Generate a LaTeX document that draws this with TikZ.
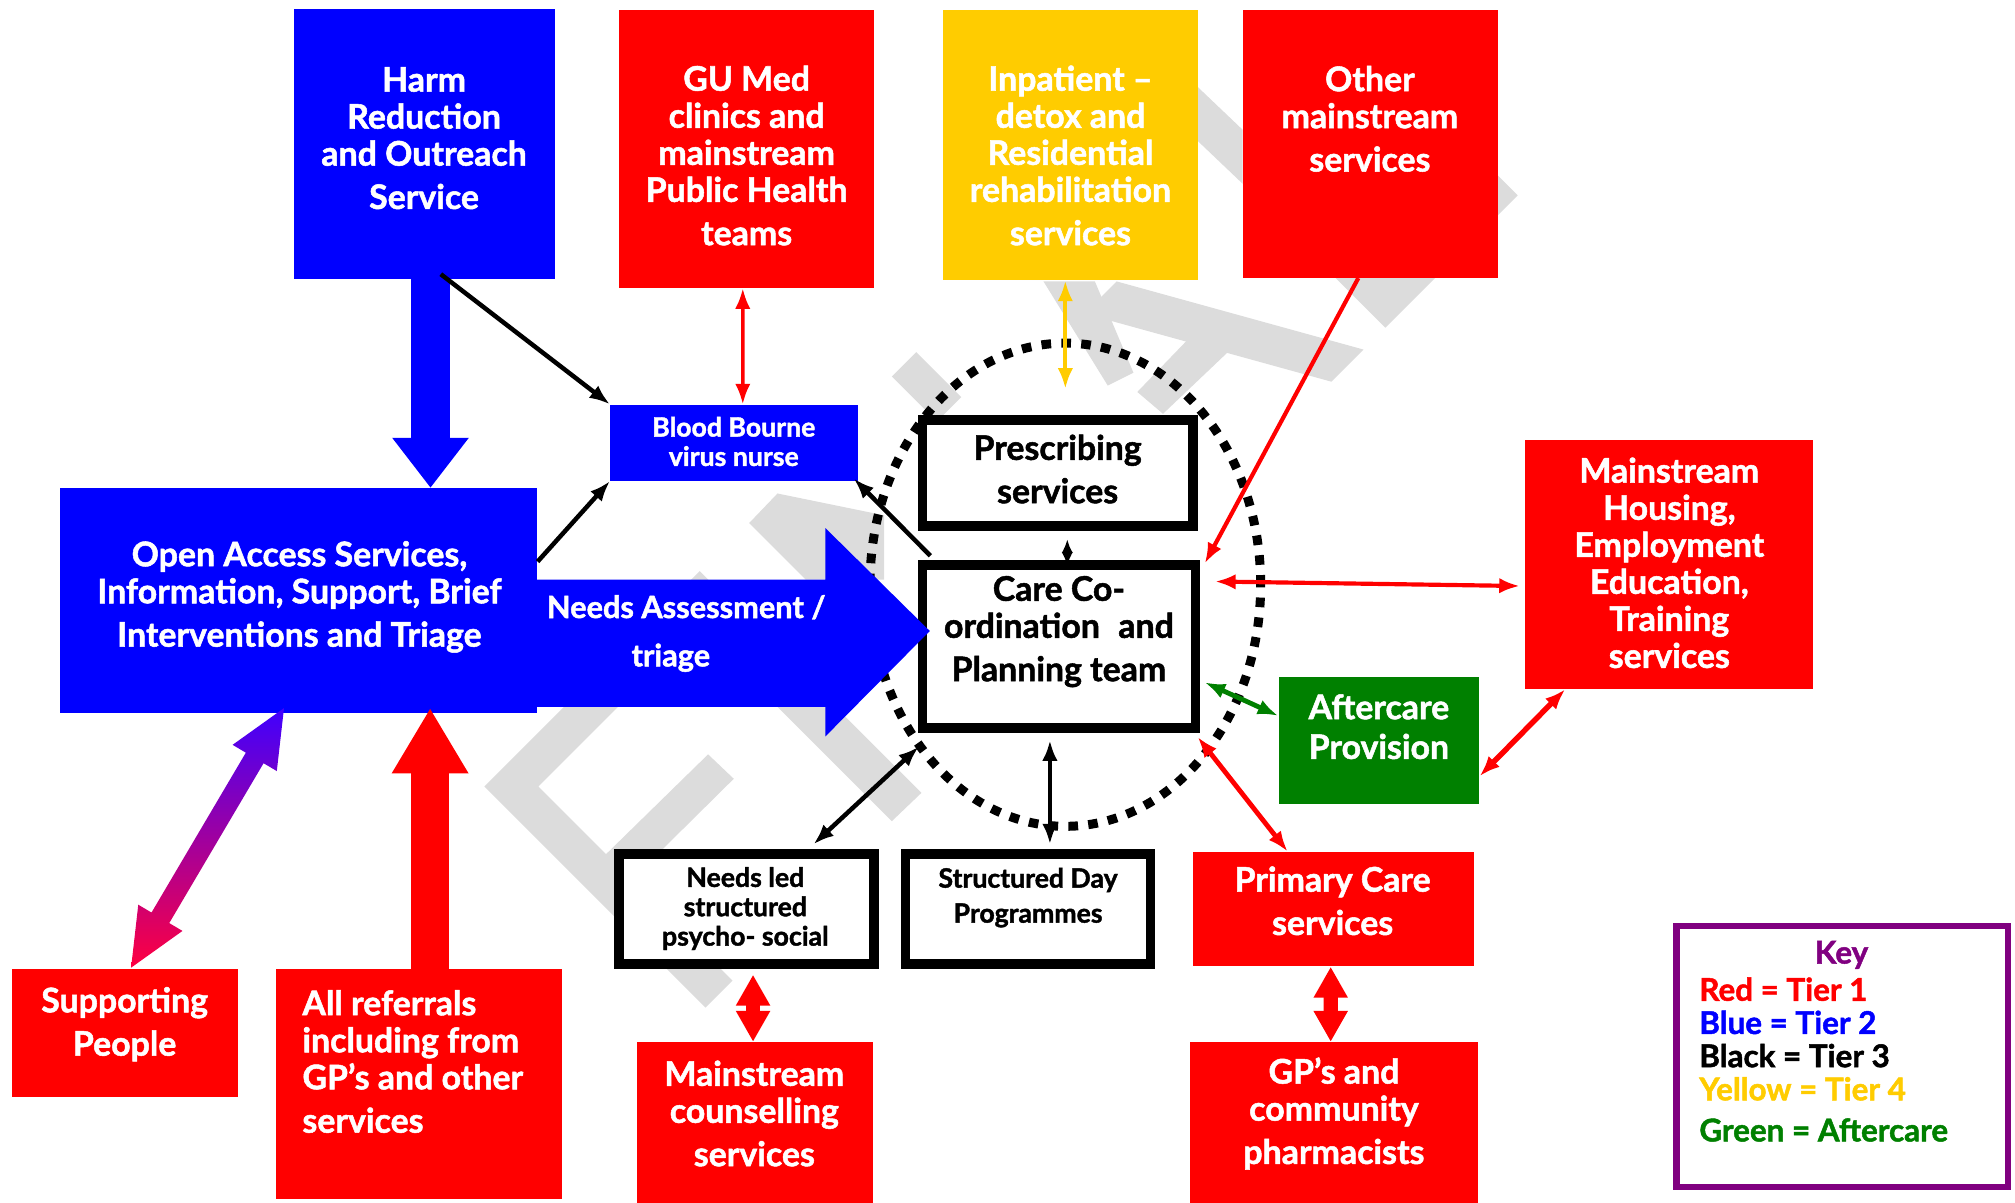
\documentclass[tikz,border=0pt]{standalone}
\usepackage{fontspec}
\setmainfont{Lato}[BoldFeatures={FakeBold=1.5}]
\usetikzlibrary{arrows.meta,shapes.geometric,calc}
\definecolor{cred}{HTML}{FF0000}
\definecolor{cblue}{HTML}{0000FF}
\definecolor{cyel}{HTML}{FFCC00}
\definecolor{cgreen}{HTML}{008000}
\definecolor{cpurp}{HTML}{800080}
\definecolor{gtop}{HTML}{3F00FF}
\definecolor{gbot}{HTML}{FF0040}
\definecolor{wmgray}{HTML}{DCDCDC}
\newcommand\bigf{\fontsize{15}{16.4}\selectfont\bfseries}
\newcommand\naf{\fontsize{13.6}{16.4}\selectfont\bfseries}
\newcommand\smallf{\fontsize{11.8}{13}\selectfont\bfseries}
\newcommand\keyf{\fontsize{13.9}{14.7}\selectfont\bfseries}
\begin{document}
\begin{tikzpicture}[x=0.02cm,y=-0.02cm,
  >={Latex[length=0.32cm,width=0.24cm]},
  sz/.style 2 args={minimum width=#1*0.02cm, minimum height=#2*0.02cm},
  cbox/.style={fill=#1, draw=none, inner sep=0pt},
  wbox/.style={fill=white, draw=black, line width=0.15cm, inner sep=0pt},
  wt/.style={text=white, align=center, inner sep=0pt, font=\bigf},
  bt/.style={text=black, align=center, inner sep=0pt, font=\bigf},
  blk/.style={draw=black, line width=0.07cm},
  redl/.style={draw=cred, line width=0.065cm},
  fat/.style={draw=cred, line width=0.22cm, {Triangle[width=0.5cm,length=0.48cm]}-{Triangle[width=0.5cm,length=0.48cm]}},
  wm/.style={fill=wmgray},
]
\useasboundingbox (0,0) rectangle (1568,936.1);

% faint watermark shapes in the background
\fill[wm] (549,784) -- (377,612) -- (544.5,444.5) -- (717,617) -- (694,639) -- (543,488) -- (419,612) -- (570,763) -- cycle;
\fill[wm] (460,676) -- (551,587) -- (571,606) -- (480,696) -- cycle;
\fill[wm] (583,407) -- (605,384) -- (688,401) -- (688,451) -- (627,451) -- cycle;
\fill[wm] (694,293) -- (713,274) -- (748,309) -- (729,328) -- cycle;
\fill[wm] (869,219) -- (1061,272) -- (1036,297) -- (844,244) -- cycle;
\fill[wm] (938,250) -- (966,264) -- (905,322) -- (885,305) -- cycle;
\fill[wm] (812,219) -- (852,219) -- (882,290) -- (862,300) -- cycle;
\fill[wm] (1039,216) -- (1078,255) -- (1181,152) -- (1142,113) -- cycle;
\fill[wm] (925,61) -- (967,101) -- (967,143) -- (925,103) -- cycle;

% dotted circle
\node[draw=black, ellipse, line width=0.14cm, dash pattern=on 0.15cm off 0.16cm, inner sep=0pt, sz={304}{376}] (circ) at (829,455) {};

% coloured boxes
\node[cbox=cblue, sz={203}{210}] (harm) at (330.5,112) {};
\node[cbox=cred, sz={198}{216}] (gu) at (581,116) {};
\node[cbox=cyel, sz={198}{210}] (inp) at (833,113) {};
\node[cbox=cred, sz={199}{208}] (other) at (1066.5,112) {};
\node[cbox=cblue, sz={193}{59}] (bbv) at (571.5,344.5) {};
\node[cbox=cblue, sz={371}{175}] (open) at (232.5,467.5) {};
\node[cbox=cred, sz={224}{194}] (housing) at (1299,439) {};
\node[cbox=cgreen, sz={156}{99}] (after) at (1073,576.5) {};
\node[cbox=cred, sz={219}{89}] (primary) at (1037.5,707.5) {};
\node[cbox=cred, sz={224}{126}] (gp) at (1038,874) {};
\node[cbox=cred, sz={183}{126}] (couns) at (587.5,874) {};
\node[cbox=cred, sz={176}{100}] (supp) at (97,804) {};
\node[cbox=cred, sz={222}{179}] (allref) at (326,843.5) {};

% white boxes
\node[wbox, sz={210.5}{82.5}] (presc) at (823,368) {};
\node[wbox, sz={212.5}{126.5}] (care) at (824,503) {};
\node[wbox, sz={198.5}{85.5}] (needsled) at (581,707.5) {};
\node[wbox, sz={190.5}{85.5}] (structday) at (800,707.5) {};

% key
\node[draw=cpurp, fill=white, line width=0.1cm, inner sep=0pt, sz={258}{203}] (key) at (1433.5,822) {};

% big block arrows
\draw[cblue, line width=0.6cm, -{Triangle[width=1.14cm,length=0.78cm]}]
  ($(harm.south)+(4.5,0)$) -- ($(open.north)+(102.5,0)$);
\draw[cred, line width=0.58cm, -{Triangle[width=1.12cm,length=1.02cm]}]
  ($(allref.north)+(8.7,0)$) -- ($(open.south)+(102.2,-4.5)$);
\fill[cblue] ($(open.east)+(-1,-16.5)$) -- ++(225,0) -- ++(0,-40)
  -- ($(care.west)+(9.5,-12)$) -- ($(open.east)+(224,105.5)$) -- ++(0,-23)
  -- ($(open.east)+(-1,82.5)$) -- cycle;

% gradient double arrow open <-> supporting people
\shade[top color=gtop, bottom color=gbot, middle color=gtop!50!gbot]
  (221,551) -- (215.4,600) -- (205.1,593.9) -- (131.7,718.3) -- (142,724.4)
  -- (102,753) -- (107.6,704) -- (117.9,710.1) -- (191.3,585.7) -- (181,579.6) -- cycle;

% texts
\node[wt] (harm-t) at (330,107.5) {Harm\\Reduction\\and Outreach\\[2.8pt]Service};
\node[wt] (gu-t) at (581,121) {GU Med\\clinics and\\mainstream\\Public Health\\[2.8pt]teams};
\node[wt] (inp-t) at (833,121) {Inpatient –\\detox and\\Residential\\rehabilitation\\[2.8pt]services};
\node[wt] (other-t) at (1066,92.5) {Other\\mainstream\\[2.8pt]services};
\node[wt, font=\smallf] (bbv-t) at (571,343.5) {Blood Bourne\\virus nurse};
\node[wt] (open-t) at (233,464.5) {Open Access Services,\\Information, Support, Brief\\[2.8pt]Interventions and Triage};
\node[wt, font=\naf] (na-t) at (534,493) {Needs Assessment /\\[5pt]triage\hspace*{0.48cm}};
\node[bt] (presc-t) at (823,365) {Prescribing\\[2.8pt]services};
\node[bt] (care-t) at (824,491.5) {Care Co-\\ordination\hspace{0.3em} and\\[2.8pt]Planning team};
\node[wt] (housing-t) at (1299,438) {Mainstream\\Housing,\\Employment\\Education,\\Training\\services};
\node[wt] (after-t) at (1073,565.5) {Aftercare\\[1.2pt]Provision};
\node[wt] (primary-t) at (1037,701) {Primary Care\\[2.8pt]services};
\node[wt] (gp-t) at (1038,866.5) {GP’s and\\community\\[2.8pt]pharmacists};
\node[wt] (couns-t) at (587,866.5) {Mainstream\\counselling\\[2.8pt]services};
\node[wt] (supp-t) at (97,797) {Supporting\\[2.8pt]People};
\node[wt, align=left, anchor=west] (allref-t) at (235,826) {All referrals\\including from\\GP’s and other\\[2.8pt]services};
\node[bt, font=\smallf] (needsled-t) at (580,707) {Needs led\\structured\\psycho- social};
\node[bt, font=\smallf] (structday-t) at (800,698.5) {Structured Day\\[2.5pt]Programmes};
\node[text=cpurp, inner sep=0pt, font=\keyf] (key-t) at (1433,743) {Key};
\node[align=left, anchor=west, inner sep=0pt, font=\keyf] (key-e) at (1322,824.5)
  {\textcolor{cred}{Red = Tier 1}\\\textcolor{cblue}{Blue = Tier 2}\\Black = Tier 3\\\textcolor{cyel}{Yellow = Tier 4}\\[3.5pt]\textcolor{cgreen}{Green = Aftercare}};

% connectors
\draw[blk, ->] ($(harm.south)+(12.5,-4)$) -- (bbv.north west);
\draw[blk, ->] ($(open.east)+(0,-30.5)$) -- (bbv.south west);
\draw[blk, ->] ($(care.north west)+(10,-3.5)$) -- ($(bbv.south east)+(-4,-2)$);
\draw[blk, line width=0.045cm, {Latex[length=0.22cm,width=0.18cm]}-{Latex[length=0.22cm,width=0.18cm]}] ($(care.north)+(6.5,4.5)$) -- ($(presc.south)+(7.5,6.5)$);
\draw[redl, line width=0.055cm, <->] ($(gu.south)+(-3,0)$) -- ($(bbv.north)+(6.5,0)$);
\draw[draw=cyel, line width=0.06cm, <->] ($(inp.south)+(-4,0)$) -- ($(presc.north)+(6,-20.5)$);
\draw[redl, ->] ($(other.south)+(-9.5,0)$) -- ($(care.north east)+(3.5,2.5)$);
\draw[redl, <->] ($(care.north east)+(11.5,16.5)$) -- ($(housing.west)+(-4,17)$);
\draw[draw=cgreen, line width=0.075cm, <->] ($(care.east)+(3.5,28)$) -- ($(after.west)+(0,-19.5)$);
\draw[draw=cred, line width=0.085cm, <->] ($(housing.south)+(-81,0)$) -- ($(after.east)+(0,27.5)$);
\draw[draw=cred, line width=0.075cm, <->] ($(care.south east)+(-2,3.5)$) -- ($(primary.north)+(-35.5,0)$);
\draw[blk, <->] ($(care.south west)+(1,11)$) -- ($(needsled.north)+(52,-4)$);
\draw[blk, <->] ($(care.south)+(-7,6)$) -- ($(structday.north)+(17,-4)$);
\draw[fat] ($(needsled.south)+(5,4.5)$) -- ($(couns.north)+(-1.5,0)$);
\draw[fat] ($(primary.south)+(-2,0)$) -- ($(gp.north)+(-2.5,0)$);
\end{tikzpicture}
\end{document}
